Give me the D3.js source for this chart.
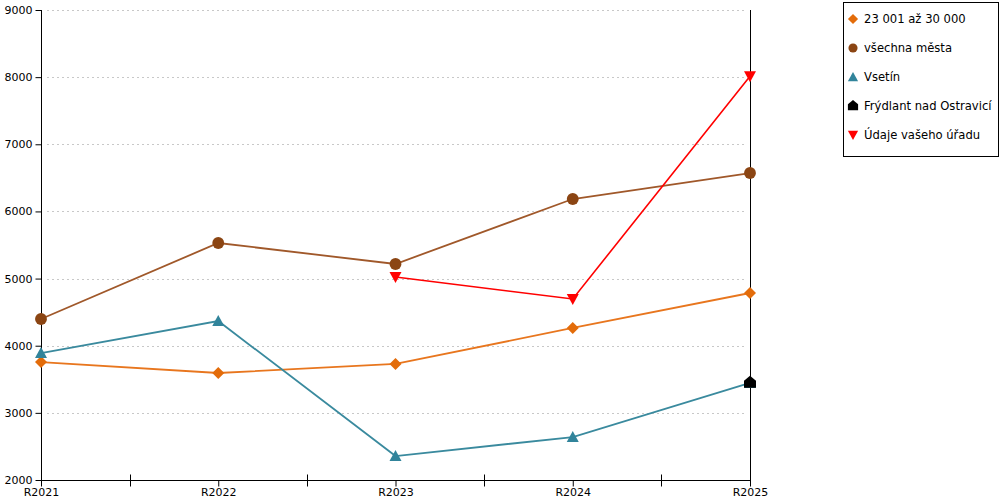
<!DOCTYPE html>
<html><head><meta charset="utf-8">
<script src="https://cdn.jsdelivr.net/npm/d3@7"></script>
<style>body{margin:0;background:#fff;}svg{display:block;font-family:"DejaVu Sans",Verdana,sans-serif;}</style>
</head><body><svg id="c" width="1000" height="500"></svg>
<script>
const categories = ["R2021","R2022","R2023","R2024","R2025"];
const yTicks = [2000,3000,4000,5000,6000,7000,8000,9000];
const seriesNames = ["23 001 až 30 000","všechna města","Vsetín","Frýdlant nad Ostravicí","Údaje vašeho úřadu"];
const valsGroup = [3757,3594,3728,4264,4785];
const valsAll = [4398,5530,5217,6185,6572];
const valsVsetin = [3891,4368,2357,2640,3445];
const valsFrydlant = [null,null,null,null,3450];
const valsOffice = [null,null,5023,4696,8015];
const lineColors = ["#e8761e","#a0582a","#3a8a9e","#000000","#ff0000"];
const markerColors = ["#e36c0a","#8b4513","#31849b","#000000","#ff0000"];
const symbols = ["diamond","circle","triangle","house","triangleDown"];

const svg = d3.select("#c");
const L=41,R=750,T=10,B=480;
const x = d3.scalePoint().domain(categories).range([L,R]);
const y = d3.scaleLinear().domain([2000,9000]).range([B,T]);
const series=[valsGroup,valsAll,valsVsetin,valsFrydlant,valsOffice];

// grid
svg.append("g").selectAll("line").data(yTicks.filter(v=>v>2000)).join("line")
 .attr("x1",L+6).attr("x2",R-4).attr("y1",d=>Math.round(y(d))+0.5).attr("y2",d=>Math.round(y(d))+0.5)
 .attr("stroke","#c8c8c8").attr("stroke-dasharray","2,3");

// right line
svg.append("line").attr("x1",R+0.5).attr("x2",R+0.5).attr("y1",T).attr("y2",B+6).attr("stroke","#000");

// axes
const ya = svg.append("g").attr("transform",`translate(${L+0.5},0)`)
 .call(d3.axisLeft(y).tickValues(yTicks).tickSize(6).tickFormat(d3.format("d")).tickPadding(3));
ya.select(".domain").attr("d",`M0,${T}V${B}`);
const xa = svg.append("g").attr("transform",`translate(0,${B+0.5})`)
 .call(d3.axisBottom(x).tickSize(6).tickPadding(2));
xa.select(".domain").attr("d",`M${L},0H${R}`);
// minor ticks between categories
const mids = categories.slice(1).map((c,i)=>(x(categories[i])+x(c))/2);
xa.selectAll(".minor").data(mids).join("line").attr("class","minor")
 .attr("x1",d=>Math.round(d)+0.5).attr("x2",d=>Math.round(d)+0.5).attr("y1",-6).attr("y2",6).attr("stroke","#000");
svg.selectAll(".tick text").attr("font-size",11).attr("fill","#000").attr("font-family","DejaVu Sans, sans-serif");
svg.selectAll(".domain,.tick line").attr("stroke","#000");

function sym(type,size){
 if(type==="diamond") return "M0,-6L6,0L0,6L-6,0Z";
 if(type==="circle") return d3.symbol(d3.symbolCircle,size)();
 if(type==="triangle") return "M0,-6L6,5L-6,5Z";
 if(type==="triangleDown") return "M-6,-5L6,-5L0,6Z";
 if(type==="house") return "M0,-7L6,-2L6,5L-6,5L-6,-2Z";
}
const line = d3.line().defined(d=>d.v!=null).x(d=>x(d.c)).y(d=>y(d.v));
series.forEach((vals,i)=>{
 const pts = categories.map((c,j)=>({c,v:vals[j]}));
 svg.append("path").datum(pts).attr("d",line).attr("fill","none").attr("stroke",lineColors[i]).attr("stroke-width",i===4?1.6:1.8);
});
series.forEach((vals,i)=>{
 const pts = categories.map((c,j)=>({c,v:vals[j]})).filter(d=>d.v!=null);
 svg.append("g").selectAll("path").data(pts).join("path")
  .attr("transform",d=>`translate(${x(d.c)},${y(d.v)})`)
  .attr("d",sym(symbols[i],110)).attr("fill",markerColors[i]);
});

// legend
const lg = svg.append("g");
lg.append("rect").attr("x",843.5).attr("y",2.5).attr("width",155).attr("height",154).attr("fill","#fff").attr("stroke","#000");
seriesNames.forEach((n,i)=>{
 const yy = 19+i*29;
 lg.append("path").attr("d",sym(symbols[i],90)).attr("fill",markerColors[i])
   .attr("transform",`translate(853,${yy}) scale(0.85)`);
 lg.append("text").attr("x",864).attr("y",yy+4).attr("font-size",11.6).attr("fill","#000").text(n);
});
</script></body></html>
